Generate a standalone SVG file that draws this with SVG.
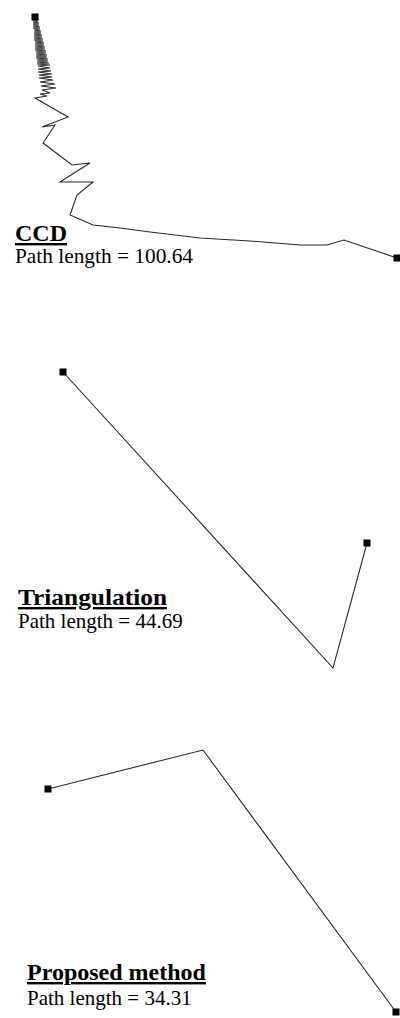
<svg xmlns="http://www.w3.org/2000/svg" width="400" height="1018" viewBox="0 0 400 1018">
<style>
.path{fill:none;stroke:#2a2a2a;stroke-width:1.1;stroke-linejoin:miter}
.pt{fill:#000}
.title{font-family:"Liberation Serif","Times New Roman",serif;font-weight:bold;font-size:24px;fill:#000;text-decoration:underline}
.len{font-family:"Liberation Serif","Times New Roman",serif;font-size:21px;fill:#000}
</style>
<rect width="400" height="1018" fill="#fff"/>
<g id="connectors">
<path class="path" d="M35,17 L38,19 L33,20 L38,21 L33,22 L39,23 L33,24 L39,25 L33,26 L40,27 L33,28 L40,29 L34,30 L41,31 L34,32 L41,33 L34,34 L42,35 L34,36 L42,37 L34,38 L43,39 L34,40 L43,41 L35,42 L44,43 L35,44 L44,45 L35,46 L45,47 L35,48 L45,49 L35,50 L46,51 L36,52 L46,53 L36,54 L47,55 L36,56 L47,57 L36,58 L48,59 L37,60 L48,61 L37,62 L49,63 L37,64 L50,65 L38,66 L50,68 L38,69 L51,71 L38,72 L52,74 L39,75 L52,77 L39,78 L53,80 L40,82 L55,84 L41,86 L56,88 L42,90 L50,93 L40,94 L47,96 L35,98 L68,117 L42,127 L55,125 L43,143 L72,165 L90,163 L60,182 L93,182 L77,195 L70,215 L93,225 L120,228 L150,232 L200,238 L250,241 L300,245 L327,245 L344,240 L397,258"/>
<path class="path" d="M63,372 L333,668 L367,543"/>
<path class="path" d="M48,789 L203,750 L396,1012"/>
</g>
<g id="ccd-start"><rect class="pt" x="31.5" y="13.5" width="7" height="7"/></g>
<g id="ccd-end"><rect class="pt" x="393.5" y="254.5" width="7" height="7"/></g>
<g id="tri-start"><rect class="pt" x="59.5" y="368.5" width="7" height="7"/></g>
<g id="tri-end"><rect class="pt" x="363.5" y="539.5" width="7" height="7"/></g>
<g id="prop-start"><rect class="pt" x="44.5" y="785.5" width="7" height="7"/></g>
<g id="prop-end"><rect class="pt" x="392.5" y="1008.5" width="7" height="7"/></g>
<g id="labels">
<text class="title" x="15" y="241">CCD</text>
<text class="len" x="15" y="263" textLength="178" lengthAdjust="spacingAndGlyphs">Path length = 100.64</text>
<text class="title" x="18" y="605" textLength="149" lengthAdjust="spacingAndGlyphs">Triangulation</text>
<text class="len" x="18" y="628">Path length = 44.69</text>
<text class="title" x="27" y="980">Proposed method</text>
<text class="len" x="27" y="1005">Path length = 34.31</text>
</g>
</svg>
